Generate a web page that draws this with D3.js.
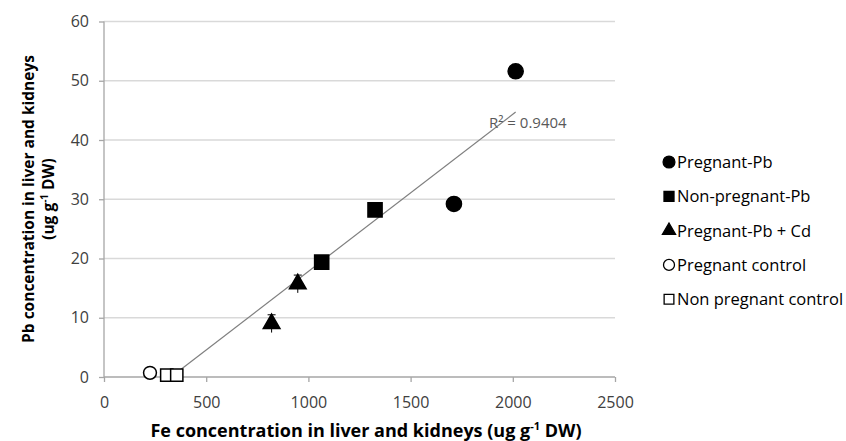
<!DOCTYPE html>
<html>
<head>
    <script src="https://cdnjs.cloudflare.com/ajax/libs/d3/7.8.5/d3.min.js"></script>
    <style>
        body { margin: 0; background: #fff; }
        text { font-family: "Open Sans", Lato, sans-serif; }
    </style>
</head>
<body>
    <div id="chart"></div>
    <script>
        // series (Fe ug/g, Pb ug/g)
        const seriesNames = ["Pregnant-Pb", "Non-pregnant-Pb", "Pregnant-Pb + Cd", "Pregnant control", "Non pregnant control"]
        const pregPbX = [2014, 1712], pregPbY = [51.6, 29.2]
        const nonPregPbX = [1326, 1065], nonPregPbY = [28.2, 19.4]
        const pregPbCdX = [948, 820], pregPbCdY = [15.7, 9.0], pregPbCdErr = [1.5, 1.5]
        const pregCtrlX = [225], pregCtrlY = [0.7]
        const nonPregCtrlX = [307, 356], nonPregCtrlY = [0.3, 0.3]
        const xTicks = [0, 500, 1000, 1500, 2000, 2500]
        const yTicks = [0, 10, 20, 30, 40, 50, 60]
        const r2Label = "R² = 0.9404"

        const W = 846, H = 441
        const svg = d3.select("#chart").append("svg").attr("width", W).attr("height", H)

        let x = d3.scaleLinear().domain([0, 2500]).range([104, 615])
        let y = d3.scaleLinear().domain([0, 60]).range([377, 21.5])

        // gridlines
        svg.append("g").selectAll("line").data(yTicks.filter(d => d > 0)).join("line")
            .attr("x1", x(0)).attr("x2", x(2500))
            .attr("y1", d => y(d)).attr("y2", d => y(d))
            .attr("stroke", "#d9d9d9").attr("stroke-width", 1.3)

        let gx = svg.append("g").attr("transform", `translate(0,${y(0)})`)
            .call(d3.axisBottom(x).tickValues(xTicks).tickFormat(d3.format("d")).tickSize(5).tickPadding(15))
        let gy = svg.append("g").attr("transform", `translate(${x(0)},0)`)
            .call(d3.axisLeft(y).tickValues(yTicks).tickSize(5).tickPadding(10))
        gx.selectAll("path, line").attr("stroke", "#a6a6a6").attr("stroke-width", 1.3)
        gy.selectAll("path, line").attr("stroke", "#a6a6a6").attr("stroke-width", 1.3)
        gx.select(".domain").attr("d", `M${x(0)},0H${x(2500)}`)
        gy.select(".domain").attr("d", `M0,${y(60)}V${y(0)}`)
        svg.selectAll(".tick text").style("font-size", "16px").attr("fill", "#404040")
            .style("font-family", "'Open Sans'")

        // linear trend line, least squares over all points
        let allX = [].concat(pregPbX, nonPregPbX, pregPbCdX, pregCtrlX, nonPregCtrlX)
        let allY = [].concat(pregPbY, nonPregPbY, pregPbCdY, pregCtrlY, nonPregCtrlY)
        let mx = d3.mean(allX), my = d3.mean(allY)
        let sxy = d3.sum(allX, (v, i) => (v - mx) * (allY[i] - my))
        let sxx = d3.sum(allX, v => (v - mx) * (v - mx))
        let slope = sxy / sxx, icpt = my - slope * mx
        let x0 = Math.max(d3.min(allX), -icpt / slope), x1 = d3.max(allX)
        svg.append("line")
            .attr("x1", x(x0)).attr("y1", y(slope * x0 + icpt))
            .attr("x2", x(x1)).attr("y2", y(slope * x1 + icpt))
            .attr("stroke", "#7f7f7f").attr("stroke-width", 1.2)

        svg.append("text").attr("x", 489).attr("y", 128).text(r2Label)
            .style("font-size", "15px").attr("fill", "#595959")

        function sym(type, size) { return d3.symbol().type(type).size(size)() }

        // error bars
        pregPbCdX.forEach(function (v, i) {
            let cx = x(v), top = y(pregPbCdY[i] + pregPbCdErr[i]), bot = y(pregPbCdY[i] - pregPbCdErr[i])
            svg.append("line").attr("x1", cx).attr("x2", cx).attr("y1", top).attr("y2", bot).attr("stroke", "#000")
            svg.append("line").attr("x1", cx - 4).attr("x2", cx + 4).attr("y1", top).attr("y2", top).attr("stroke", "#000")
        })

        const markers = [
            { xs: pregPbX, ys: pregPbY, path: sym(d3.symbolCircle, 180), fill: "#000" },
            { xs: nonPregPbX, ys: nonPregPbY, path: sym(d3.symbolSquare, 200), fill: "#000" },
            { xs: pregPbCdX, ys: pregPbCdY, path: sym(d3.symbolTriangle, 120), fill: "#000" },
            { xs: pregCtrlX, ys: pregCtrlY, path: sym(d3.symbolCircle, 130), fill: "#fff" },
            { xs: nonPregCtrlX, ys: nonPregCtrlY, path: sym(d3.symbolSquare, 150), fill: "#fff" }
        ]
        markers.forEach(function (m) {
            m.xs.forEach(function (v, i) {
                svg.append("path").attr("d", m.path)
                    .attr("transform", `translate(${x(v)},${y(m.ys[i])})`)
                    .attr("fill", m.fill).attr("stroke", "#000").attr("stroke-width", 1.5)
            })
        })

        // legend
        const legendMarks = [
            sym(d3.symbolCircle, 110), sym(d3.symbolSquare, 100), sym(d3.symbolTriangle, 75),
            sym(d3.symbolCircle, 95), sym(d3.symbolSquare, 95)
        ]
        const legendFill = ["#000", "#000", "#000", "#fff", "#fff"]
        seriesNames.forEach(function (name, i) {
            let ly = 162 + i * 34.3
            svg.append("path").attr("d", legendMarks[i]).attr("transform", `translate(669,${ly})`)
                .attr("fill", legendFill[i]).attr("stroke", "#000").attr("stroke-width", 1.3)
            svg.append("text").attr("x", 677).attr("y", ly + 6).text(name)
                .style("font-size", "16.5px").attr("fill", "#000")
        })

        // axis titles
        let xt = svg.append("text").attr("x", 366).attr("y", 437).attr("text-anchor", "middle")
            .style("font-size", "18px").style("font-weight", "bold").attr("fill", "#000")
        xt.append("tspan").text("Fe concentration in liver and kidneys (ug g")
        xt.append("tspan").text("-1").attr("dy", -7).style("font-size", "11px")
        xt.append("tspan").text(" DW)").attr("dy", 7)

        let yt = svg.append("text").attr("transform", "translate(34,199) rotate(-90)").attr("text-anchor", "middle")
            .style("font-size", "15.5px").style("font-weight", "bold").attr("fill", "#000")
        yt.append("tspan").attr("x", 0).attr("y", 0).text("Pb concentration in liver and kidneys")
        let yt2 = svg.append("text").attr("transform", "translate(54,199) rotate(-90)").attr("text-anchor", "middle")
            .style("font-size", "15.5px").style("font-weight", "bold").attr("fill", "#000")
        yt2.append("tspan").text("(ug g")
        yt2.append("tspan").text("-1").attr("dy", -6).style("font-size", "10px")
        yt2.append("tspan").text(" DW)").attr("dy", 6)
    </script>
</body>
</html>
